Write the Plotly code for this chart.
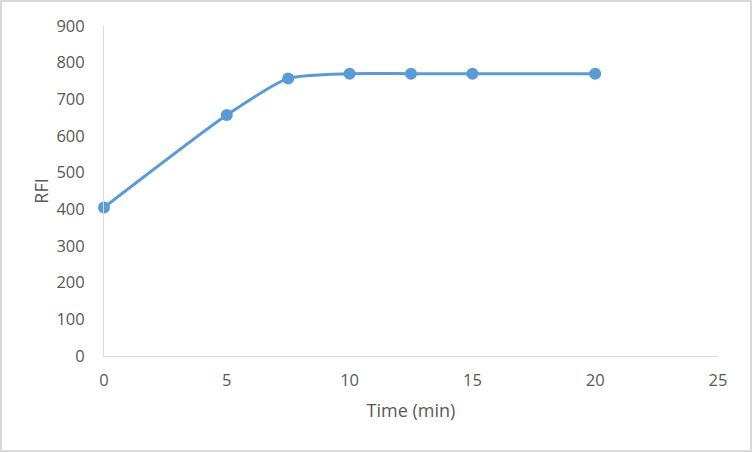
import plotly.graph_objects as go

time_min = [0, 5, 7.5, 10, 12.5, 15, 20]
rfi = [405, 657, 757, 770, 770, 770, 770]
x_ticks = [0, 5, 10, 15, 20, 25]
y_ticks = [0, 100, 200, 300, 400, 500, 600, 700, 800, 900]

W, H = 752, 452
ml, mr, mt, mb = 104, 34, 26, 96
pw, ph = W - ml - mr, H - mt - mb

fig = go.Figure()
fig.add_trace(go.Scatter(
    x=time_min, y=rfi, mode="lines+markers",
    line=dict(color="#5B9BD5", width=3, shape="spline", smoothing=0.6),
    marker=dict(color="#5B9BD5", size=12),
    cliponaxis=False,
    showlegend=False,
))

font = dict(family="Open Sans, sans-serif", size=16.5, color="#595959")
fig.update_layout(
    width=W, height=H,
    margin=dict(l=ml, r=mr, t=mt, b=mb),
    paper_bgcolor="white", plot_bgcolor="white",
    font=font,
    xaxis=dict(range=[0, 25], tickvals=x_ticks, showgrid=False, zeroline=False,
               showline=True, linecolor="#D9D9D9", linewidth=1,
               ticks="", ticklabelstandoff=9,
               title=dict(text="Time (min)", font=dict(size=18, color="#595959"), standoff=14)),
    yaxis=dict(range=[0, 900], tickvals=y_ticks, showgrid=False, zeroline=False,
               showline=True, linecolor="#D9D9D9", linewidth=1,
               ticks="", ticklabelstandoff=15,
               title=dict(text="RFI", font=dict(size=18, color="#595959"), standoff=3)),
    shapes=[dict(type="rect", xref="paper", yref="paper",
                 x0=-(ml - 1) / pw, x1=1 + (mr - 1) / pw,
                 y0=-(mb - 1) / ph, y1=1 + (mt - 1) / ph,
                 line=dict(color="#D9D9D9", width=2), layer="below")],
)

fig.write_html("out.html")
